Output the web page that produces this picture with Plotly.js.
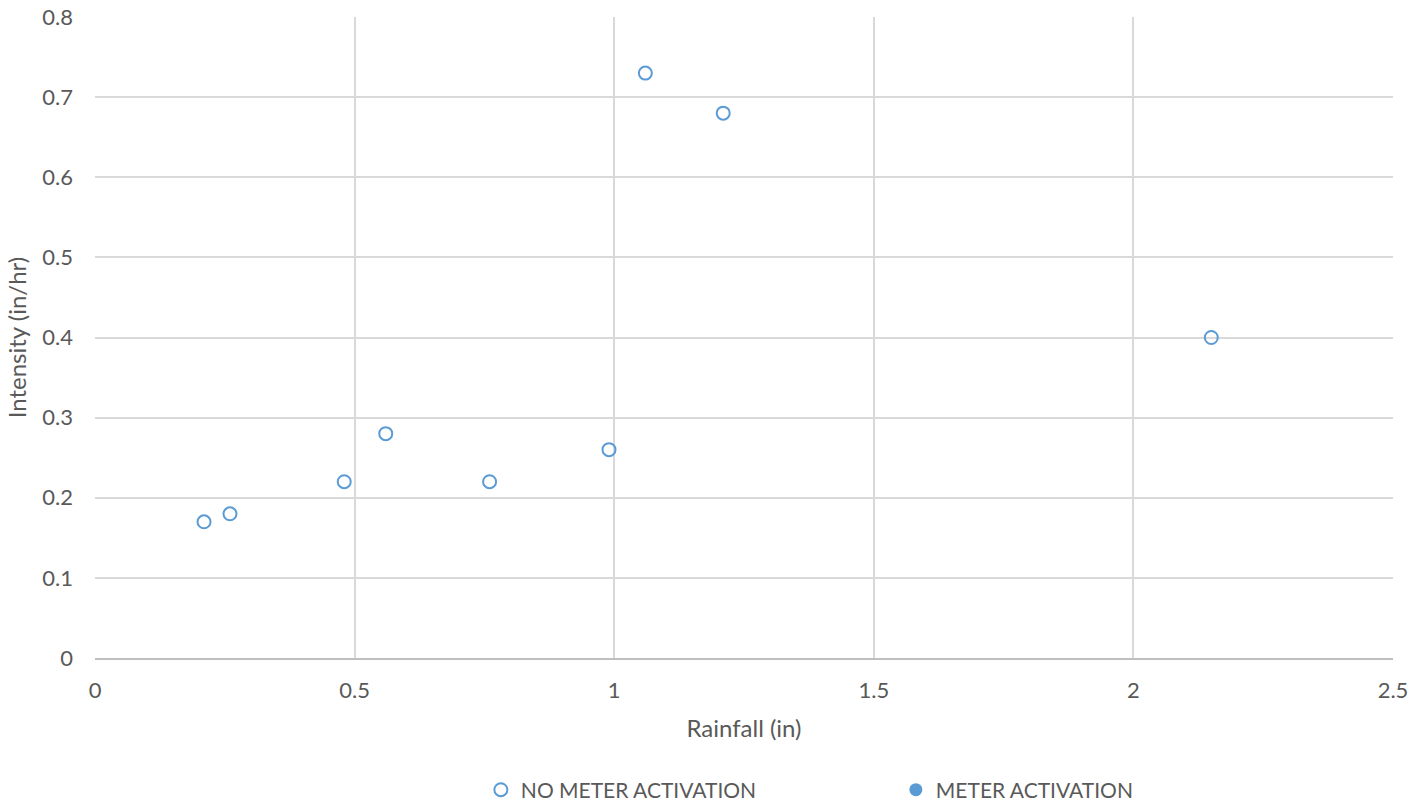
<!DOCTYPE html>
<html>
<head>
<meta charset="utf-8">
<script src="https://cdn.plot.ly/plotly-3.0.1.min.js"></script>
<style>html,body{margin:0;padding:0;background:#fff}#chart{width:1425px;height:809px}</style>
</head>
<body>
<div id="chart"></div>
<script>
const seriesNames = ["NO METER ACTIVATION", "METER ACTIVATION"];
const rainfallNoMeter = [0.21, 0.26, 0.48, 0.56, 0.76, 0.99, 1.06, 1.21, 2.15];
const intensityNoMeter = [0.17, 0.18, 0.22, 0.28, 0.22, 0.26, 0.73, 0.68, 0.40];
const rainfallMeter = [];
const intensityMeter = [];
const xTicks = [0, 0.5, 1, 1.5, 2, 2.5];
const yTicks = [0, 0.1, 0.2, 0.3, 0.4, 0.5, 0.6, 0.7, 0.8];

const fontFam = "Lato, 'Open Sans', sans-serif";
const traces = [
  {
    x: rainfallNoMeter, y: intensityNoMeter, name: seriesNames[0],
    type: "scatter", mode: "markers",
    marker: {symbol: "circle-open", size: 13, color: "#5B9BD5", line: {width: 2, color: "#5B9BD5"}}
  },
  {
    x: rainfallMeter.length ? rainfallMeter : [null], y: intensityMeter.length ? intensityMeter : [null], name: seriesNames[1],
    type: "scatter", mode: "markers",
    marker: {symbol: "circle", size: 13, color: "#5B9BD5"}
  }
];
const layout = {
  width: 1425, height: 809,
  margin: {l: 95, r: 32, t: 17, b: 151, autoexpand: false},
  paper_bgcolor: "#fff", plot_bgcolor: "#fff",
  font: {family: fontFam, color: "#595959", size: 22},
  showlegend: true,
  legend: {orientation: "h", x: 0.617, xanchor: "center", y: -0.206, yanchor: "middle",
           font: {size: 21, color: "#595959"}, entrywidth: 370, itemwidth: 30},
  xaxis: {
    range: [0, 2.5], tickvals: xTicks, ticktext: xTicks.map(String),
    showgrid: true, gridcolor: "#D9D9D9", gridwidth: 2,
    zeroline: false, showline: true, linecolor: "#BFBFBF", linewidth: 2,
    ticks: "", ticklen: 0, ticklabelstandoff: 12, tickfont: {size: 22, color: "#595959"},
    title: {text: "Rainfall (in)", font: {size: 24, color: "#595959"}, standoff: 18}
  },
  yaxis: {
    range: [0, 0.8], tickvals: yTicks, ticktext: yTicks.map(String),
    showgrid: true, gridcolor: "#D9D9D9", gridwidth: 2,
    zeroline: false, showline: false,
    ticks: "", ticklabelstandoff: 21, tickfont: {size: 22, color: "#595959"},
    title: {text: "Intensity (in/hr)", font: {size: 24, color: "#595959"}, standoff: 8}
  }
};
Plotly.newPlot("chart", traces, layout, {displayModeBar: false, staticPlot: true});
</script>
</body>
</html>
